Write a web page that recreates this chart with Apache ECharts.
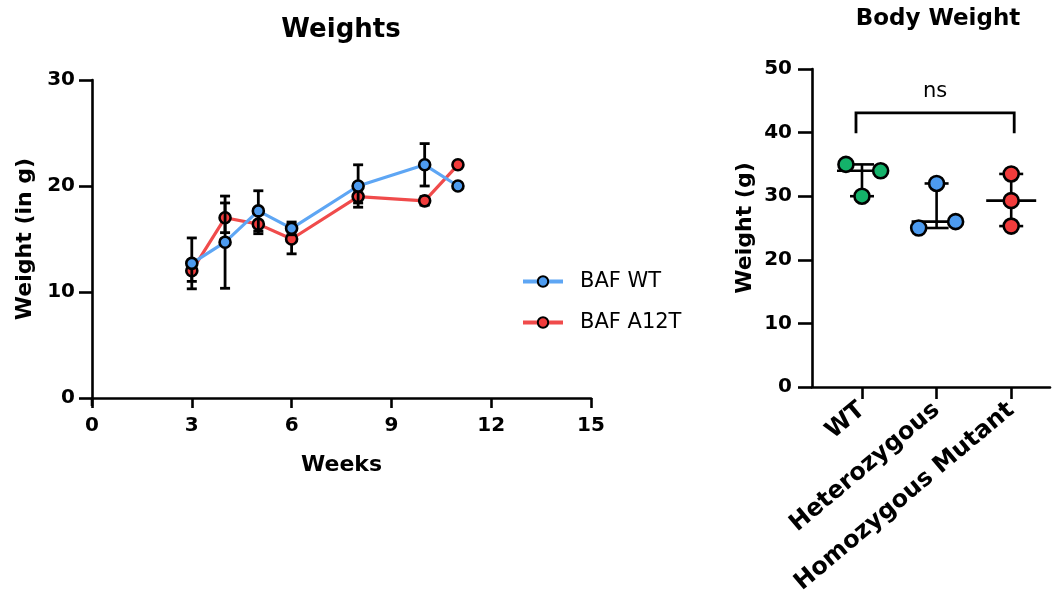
<!DOCTYPE html>
<html>
<head>
<meta charset="utf-8">
<script src="https://cdn.jsdelivr.net/npm/echarts@6/dist/echarts.min.js"></script>
<style>
  html, body { margin: 0; padding: 0; background: #fff; }
  #chart { width: 1059px; height: 613px; }
</style>
</head>
<body>
<div id="chart"></div>
<script>
// Weekly weights (mean and SD) for the two lines
const weeks = [3, 4, 5, 6, 8, 10, 11];
const wtMean = [12.7, 14.7, 17.65, 16.0, 20.0, 22.0, 20.0];
const wtSD = [2.4, 4.35, 1.9, 0.6, 2.0, 2.0, 0];
const a12tMean = [12.0, 17.0, 16.4, 15.0, 19.0, 18.6, 22.0];
const a12tSD = [1.0, 1.4, 0.9, 1.4, 0.6, 0.4, 0];
const seriesNames = ['BAF WT', 'BAF A12T'];

// Body weight per genotype (individual animals)
const groups = ['WT', 'Heterozygous', 'Homozygous Mutant'];
const wtBody = [35, 34, 30];
const hetBody = [25, 26, 32];
const homBody = [33.5, 29.3, 25.3];
const sigLabel = 'ns';

// Axis ranges and tick steps
const weekTicks = { min: 0, max: 15, interval: 3 };
const weightTicks = { min: 0, max: 30, interval: 10 };
const bodyTicks = { min: 0, max: 50, interval: 10 };

// horizontal scatter spread of the points inside each group
const jitter = [[-0.215, 0.25, 0], [-0.24, 0.255, 0], [0, 0, 0]];

const FONT = '"DejaVu Sans", sans-serif';
const BLUE = '#4d9bef', BLUE_LINE = '#5ea6f4';
const RED = '#f23c3c', RED_LINE = '#f04b4b';
const GREEN = '#14b26a';
const INK = '#000';
const AX_W = 2.6;

function errBars(mean, sd) {
  return weeks.map((w, i) => [w, mean[i], sd[i]]);
}

function renderErr(params, api) {
  const x = api.value(0), m = api.value(1), s = api.value(2);
  if (!s) return null;
  const top = api.coord([x, m + s]);
  const bot = api.coord([x, m - s]);
  const w = 5;
  const st = { stroke: INK, lineWidth: 2.8 };
  return {
    type: 'group',
    children: [
      { type: 'line', shape: { x1: top[0], y1: top[1], x2: bot[0], y2: bot[1] }, style: st },
      { type: 'line', shape: { x1: top[0] - w, y1: top[1], x2: top[0] + w, y2: top[1] }, style: st },
      { type: 'line', shape: { x1: bot[0] - w, y1: bot[1], x2: bot[0] + w, y2: bot[1] }, style: st }
    ]
  };
}

function median(arr) {
  const s = arr.slice().sort((a, b) => a - b);
  return s[Math.floor(s.length / 2)];
}

const bodySets = [wtBody, hetBody, homBody];
const rangeData = bodySets.map((vals, i) => [i + 1, Math.min(...vals), median(vals), Math.max(...vals)]);

function renderRange(params, api) {
  const x = api.value(0);
  const lo = api.coord([x, api.value(1)]);
  const md = api.coord([x, api.value(2)]);
  const hi = api.coord([x, api.value(3)]);
  const mw = 25, cw = 12;
  const st = { stroke: INK, lineWidth: 2.6 };
  return {
    type: 'group',
    children: [
      { type: 'line', shape: { x1: hi[0], y1: hi[1], x2: lo[0], y2: lo[1] }, style: st },
      { type: 'line', shape: { x1: md[0] - mw, y1: md[1], x2: md[0] + mw, y2: md[1] }, style: st },
      { type: 'line', shape: { x1: hi[0] - cw, y1: hi[1], x2: hi[0] + cw, y2: hi[1] }, style: st },
      { type: 'line', shape: { x1: lo[0] - cw, y1: lo[1], x2: lo[0] + cw, y2: lo[1] }, style: st }
    ]
  };
}

// comparison bracket between first and last group
const bracketData = [[1, 3, 43.1, 39.9]];
function renderBracket(params, api) {
  const a = api.coord([api.value(0), api.value(2)]);
  const b = api.coord([api.value(1), api.value(2)]);
  const legEnd = api.coord([api.value(0), api.value(3)])[1];
  const xa = a[0] - 6, xb = b[0] + 3;
  return {
    type: 'group',
    children: [
      { type: 'polyline', shape: { points: [[xa, legEnd], [xa, a[1]], [xb, b[1]], [xb, legEnd]] },
        style: { stroke: INK, lineWidth: 2.8, fill: null } },
      { type: 'text', style: { text: sigLabel, x: (xa + xb) / 2, y: a[1] - 11, align: 'center', verticalAlign: 'bottom',
        fill: INK, font: '21px ' + FONT } }
    ]
  };
}

const tickLabel = { color: INK, fontFamily: FONT, fontWeight: 'bold', fontSize: 20 };
const axisName = { color: INK, fontFamily: FONT, fontWeight: 'bold', fontSize: 22 };
const axisLine = { show: true, onZero: false, lineStyle: { color: INK, width: AX_W } };
const tickStyle = { color: INK, width: AX_W };

const chart = echarts.init(document.getElementById('chart'), null, { renderer: 'canvas' });

const option = {
  animation: false,
  backgroundColor: '#fff',
  title: [
    { text: 'Weights', left: 336, top: 12, textAlign: 'center',
      textStyle: { fontFamily: FONT, fontWeight: 'bold', fontSize: 26, color: INK } },
    { text: 'Body Weight', left: 933, top: 3, textAlign: 'center',
      textStyle: { fontFamily: FONT, fontWeight: 'bold', fontSize: 23, color: INK } }
  ],
  legend: {
    data: seriesNames,
    orient: 'vertical',
    left: 516,
    top: 266,
    itemWidth: 40,
    itemHeight: 13,
    itemGap: 20,
    lineStyle: { width: 4 },
    textStyle: { fontFamily: FONT, fontSize: 21, color: INK, padding: [0, 0, 0, 12] }
  },
  grid: [
    { left: 92, top: 80, width: 499, height: 318 },
    { left: 812, top: 69, width: 238, height: 318 }
  ],
  xAxis: [
    {
      gridIndex: 0, type: 'value', min: weekTicks.min, max: weekTicks.max, interval: weekTicks.interval,
      name: 'Weeks', nameLocation: 'middle', nameGap: 56, nameTextStyle: axisName,
      axisLine: axisLine,
      axisTick: { show: true, length: 10, lineStyle: tickStyle },
      axisLabel: Object.assign({ margin: 18 }, tickLabel),
      splitLine: { show: false }
    },
    {
      gridIndex: 1, type: 'value', min: 0.33, max: 3.52,
      axisLine: axisLine,
      axisTick: { show: true, length: 12, customValues: [1, 2, 3], lineStyle: tickStyle },
      axisLabel: Object.assign({}, tickLabel, { fontSize: 24, margin: 20, rotate: 40,
        customValues: [1, 2, 3], formatter: v => groups[Math.round(v) - 1] || '' }),
      splitLine: { show: false }
    }
  ],
  yAxis: [
    {
      gridIndex: 0, type: 'value', min: weightTicks.min, max: weightTicks.max, interval: weightTicks.interval,
      name: 'Weight (in g)', nameLocation: 'middle', nameGap: 56, nameTextStyle: axisName,
      axisLine: axisLine,
      axisTick: { show: true, length: 13, lineStyle: tickStyle },
      axisLabel: Object.assign({ margin: 17 }, tickLabel),
      splitLine: { show: false }
    },
    {
      gridIndex: 1, type: 'value', min: bodyTicks.min, max: bodyTicks.max, interval: bodyTicks.interval,
      name: 'Weight (g)', nameLocation: 'middle', nameGap: 56, nameTextStyle: axisName,
      axisLine: axisLine,
      axisTick: { show: true, length: 14, lineStyle: tickStyle },
      axisLabel: Object.assign({ margin: 20 }, tickLabel),
      splitLine: { show: false }
    }
  ],
  series: [
    { type: 'custom', xAxisIndex: 0, yAxisIndex: 0, z: 1, silent: true,
      data: errBars(a12tMean, a12tSD), renderItem: renderErr, encode: { x: 0, y: 1 } },
    { name: seriesNames[1], type: 'line', xAxisIndex: 0, yAxisIndex: 0, z: 2,
      data: weeks.map((w, i) => [w, a12tMean[i]]),
      symbol: 'circle', symbolSize: 11,
      lineStyle: { color: RED_LINE, width: 3.2 },
      itemStyle: { color: RED, borderColor: INK, borderWidth: 2.6 } },
    { type: 'custom', xAxisIndex: 0, yAxisIndex: 0, z: 3, silent: true,
      data: errBars(wtMean, wtSD), renderItem: renderErr, encode: { x: 0, y: 1 } },
    { name: seriesNames[0], type: 'line', xAxisIndex: 0, yAxisIndex: 0, z: 4,
      data: weeks.map((w, i) => [w, wtMean[i]]),
      symbol: 'circle', symbolSize: 11,
      lineStyle: { color: BLUE_LINE, width: 3.2 },
      itemStyle: { color: BLUE, borderColor: INK, borderWidth: 2.6 } },

    { type: 'custom', xAxisIndex: 1, yAxisIndex: 1, z: 1, silent: true,
      data: rangeData, renderItem: renderRange, encode: { x: 0, y: 2 } },
    ...bodySets.map((vals, g) => ({
      type: 'scatter', xAxisIndex: 1, yAxisIndex: 1, z: 2,
      data: vals.map((v, k) => [g + 1 + jitter[g][k], v]),
      symbol: 'circle', symbolSize: 15,
      itemStyle: { color: [GREEN, BLUE, RED][g], borderColor: INK, borderWidth: 2.6, opacity: 1 }
    })),
    { type: 'custom', xAxisIndex: 1, yAxisIndex: 1, z: 3, silent: true,
      data: bracketData, renderItem: renderBracket, encode: { x: [0, 1], y: 2 } }
  ]
};

chart.setOption(option);

// the weeks chart's y axis runs a little past the origin
const origin = chart.convertToPixel({ gridIndex: 0 }, [weekTicks.min, weightTicks.min]);
chart.setOption({
  graphic: [{
    type: 'line', z: 10, silent: true,
    shape: { x1: origin[0], y1: origin[1], x2: origin[0], y2: origin[1] + 8 },
    style: { stroke: INK, lineWidth: AX_W }
  }]
});
</script>
</body>
</html>
